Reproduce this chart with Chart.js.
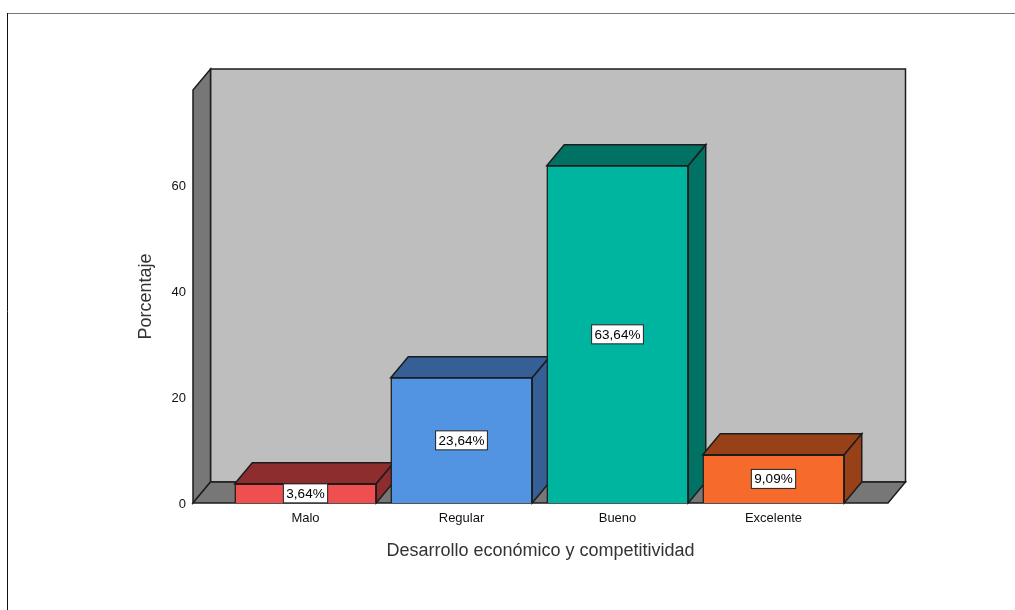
<!DOCTYPE html>
<html lang="es">
<head>
<meta charset="utf-8">
<title>Desarrollo económico y competitividad</title>
<script src="https://cdn.jsdelivr.net/npm/chart.js@4"></script>
<style>
  html, body { margin: 0; background: #fff; overflow: hidden; }
  canvas { display: block; }
</style>
</head>
<body>
<canvas id="grafico" width="1015" height="610"></canvas>
<script>
// ------------------------
// Datos
// ------------------------

const categorias = ['Malo', 'Regular', 'Bueno', 'Excelente'];
const porcentajes = [3.64, 23.64, 63.64, 9.09];
const etiquetas = ['3,64%', '23,64%', '63,64%', '9,09%'];
const ticksY = [0, 20, 40, 60];

const coloresFrente = ['#EF4F4F', '#5294E2', '#00B5A0', '#F66A2B'];
const coloresTapa = ['#8E2D2D', '#365F95', '#007264', '#984018'];

// ------------------------
// Estilo y geometría
// ------------------------

const FONDO_X = 17.5;
const FONDO_Y = 21;
const LINEA = '#1c1c1c';
const FUENTE = '"Liberation Sans", Arial, sans-serif';

function poligono(ctx, puntos, relleno) {
  ctx.beginPath();
  puntos.forEach((p, i) => (i ? ctx.lineTo(p[0], p[1]) : ctx.moveTo(p[0], p[1])));
  ctx.closePath();
  ctx.fillStyle = relleno;
  ctx.fill();
  ctx.strokeStyle = LINEA;
  ctx.lineWidth = 1.5;
  ctx.stroke();
}

// Marco de la hoja, paredes y suelo
const pluginParedes = {
  id: 'paredes',
  beforeDraw(chart) {
    const { ctx, chartArea: a } = chart;
    ctx.save();
    ctx.strokeStyle = '#777';
    ctx.lineWidth = 1;
    ctx.beginPath();
    ctx.moveTo(7, 13.5);
    ctx.lineTo(1015, 13.5);
    ctx.stroke();
    ctx.strokeStyle = '#111';
    ctx.beginPath();
    ctx.moveTo(7.5, 13);
    ctx.lineTo(7.5, 610);
    ctx.stroke();

    const izq = a.left, der = a.right, arr = a.top, aba = a.bottom;
    const dx = FONDO_X, dy = FONDO_Y;
    poligono(ctx, [[izq + dx, arr - dy], [der + dx, arr - dy], [der + dx, aba - dy], [izq + dx, aba - dy]], '#BEBEBE');
    poligono(ctx, [[izq, arr], [izq + dx, arr - dy], [izq + dx, aba - dy], [izq, aba]], '#777777');
    poligono(ctx, [[izq, aba], [izq + dx, aba - dy], [der + dx, aba - dy], [der, aba]], '#777777');
    ctx.restore();
  },
  // Tapa y lateral de cada barra, por detrás de las caras frontales
  beforeDatasetsDraw(chart) {
    const { ctx } = chart;
    const barras = chart.getDatasetMeta(0).data;
    ctx.save();
    barras.forEach((b, i) => {
      const izq = b.x - b.width / 2, der = b.x + b.width / 2;
      const dx = FONDO_X, dy = FONDO_Y;
      poligono(ctx, [[izq, b.y], [izq + dx, b.y - dy], [der + dx, b.y - dy], [der, b.y]], coloresTapa[i]);
      poligono(ctx, [[der, b.y], [der + dx, b.y - dy], [der + dx, b.base - dy], [der, b.base]], coloresTapa[i]);
    });
    ctx.restore();
  },
  // Rótulos de porcentaje en caja blanca
  afterDatasetsDraw(chart) {
    const { ctx } = chart;
    const barras = chart.getDatasetMeta(0).data;
    ctx.save();
    ctx.font = '13.5px ' + FUENTE;
    ctx.textAlign = 'center';
    ctx.textBaseline = 'middle';
    barras.forEach((b, i) => {
      const cy = (b.y + b.base) / 2;
      const ancho = ctx.measureText(etiquetas[i]).width + 6;
      const alto = 19;
      ctx.fillStyle = '#fff';
      ctx.fillRect(b.x - ancho / 2, cy - alto / 2, ancho, alto);
      ctx.strokeStyle = '#222';
      ctx.lineWidth = 1;
      ctx.strokeRect(b.x - ancho / 2, cy - alto / 2, ancho, alto);
      ctx.fillStyle = '#000';
      ctx.fillText(etiquetas[i], b.x, cy + 0.5);
    });
    ctx.restore();
  }
};

// ------------------------
// Gráfico
// ------------------------

const ctx = document.getElementById('grafico').getContext('2d');
new Chart(ctx, {
  type: 'bar',
  data: {
    datasets: [{
      label: 'Porcentaje',
      data: porcentajes.map((v, i) => ({ x: i, y: v })),
      backgroundColor: coloresFrente,
      borderColor: LINEA,
      borderWidth: 1.5,
      barThickness: 141.5
    }]
  },
  options: {
    responsive: false,
    animation: false,
    layout: { padding: { top: 90, right: 127, bottom: 0, left: 0 } },
    plugins: { legend: { display: false }, tooltip: { enabled: false } },
    scales: {
      x: {
        type: 'linear',
        offset: false,
        min: -0.7212,
        max: 3.734,
        grid: { display: false },
        border: { display: false },
        afterBuildTicks(eje) { eje.ticks = categorias.map((_, i) => ({ value: i })); },
        afterFit(eje) { eje.height = 107; },
        ticks: {
          autoSkip: false,
          maxRotation: 0,
          padding: 0,
          color: '#111',
          font: { family: FUENTE, size: 13 },
          callback: v => categorias[v]
        },
        title: {
          display: true,
          text: 'Desarrollo económico y competitividad',
          color: '#333',
          font: { family: FUENTE, size: 18 },
          padding: { top: 0, bottom: 48 }
        }
      },
      y: {
        min: 0,
        max: 77.92,
        grid: { display: false },
        border: { display: false },
        afterBuildTicks(eje) { eje.ticks = ticksY.map(v => ({ value: v })); },
        afterFit(eje) { eje.width = 193; },
        ticks: {
          padding: -1,
          labelOffset: 1,
          color: '#111',
          font: { family: FUENTE, size: 13 }
        },
        title: {
          display: true,
          text: 'Porcentaje',
          color: '#333',
          font: { family: FUENTE, size: 18 },
          padding: { top: 135, bottom: 0 }
        }
      }
    }
  },
  plugins: [pluginParedes]
});
</script>
</body>
</html>
